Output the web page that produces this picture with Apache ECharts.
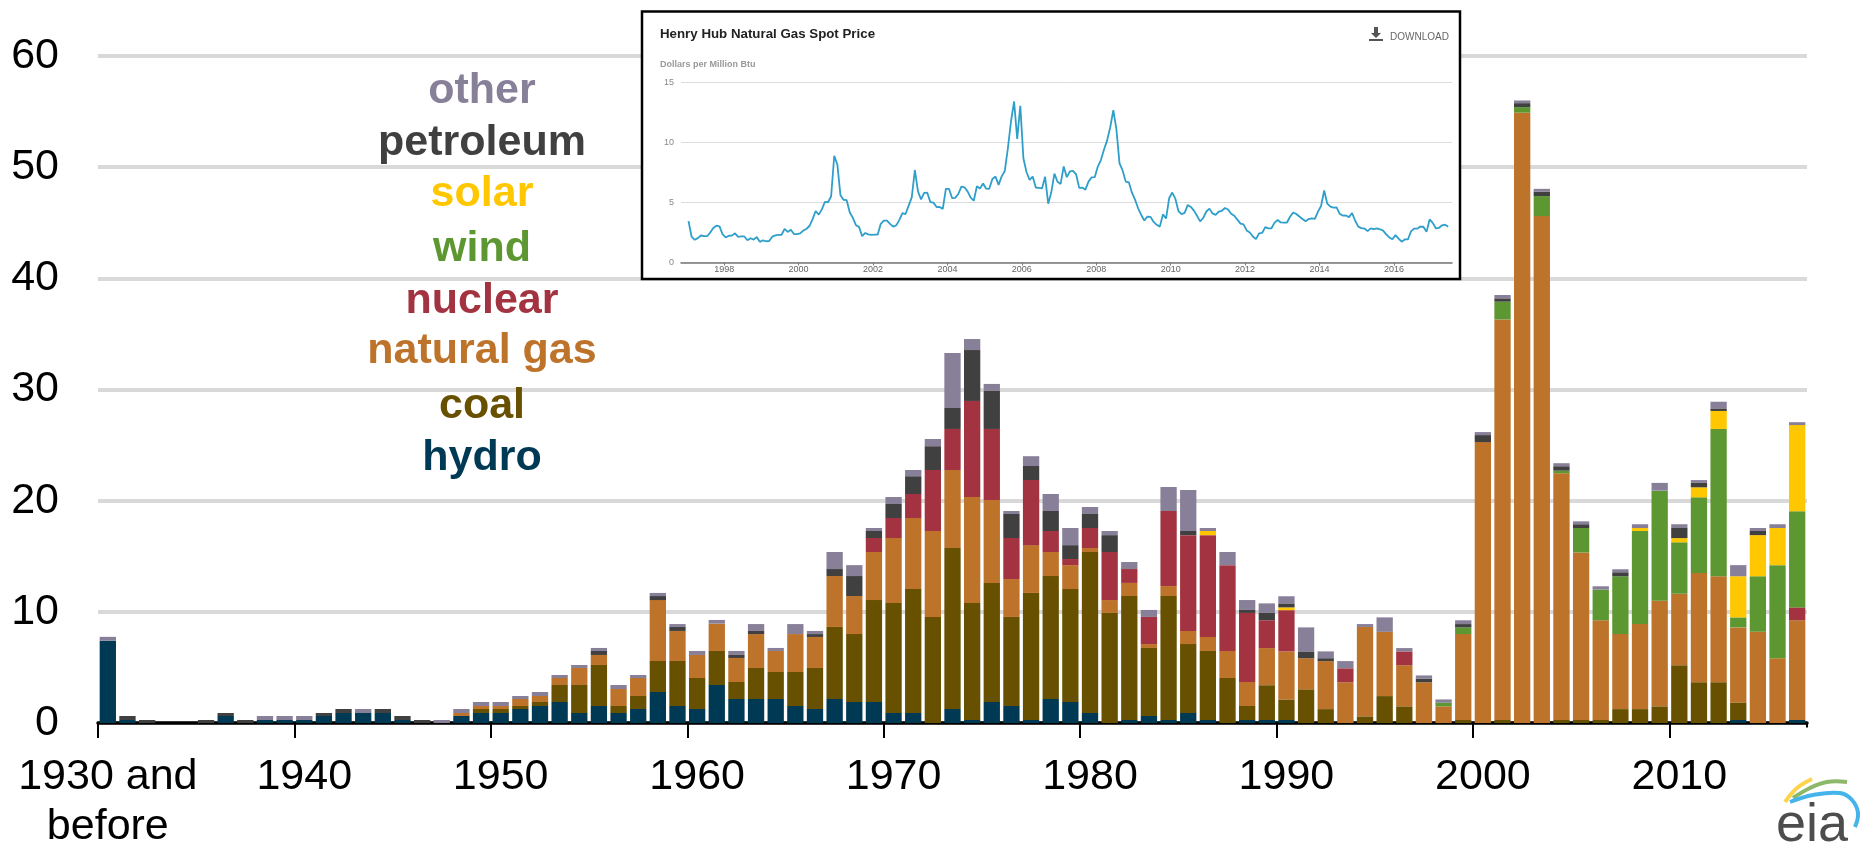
<!DOCTYPE html>
<html>
<head>
<meta charset="utf-8">
<script src="https://cdn.jsdelivr.net/npm/echarts@6/dist/echarts.min.js"></script>
<style>html,body{margin:0;padding:0;background:#fff}#c{width:1866px;height:858px}</style>
</head>
<body>
<div id="c"></div>
<script>
const categories = ['1930 and\nbefore','1931','1932','1933','1934','1935','1936','1937','1938','1939',
'1940','1941','1942','1943','1944','1945','1946','1947','1948','1949',
'1950','1951','1952','1953','1954','1955','1956','1957','1958','1959',
'1960','1961','1962','1963','1964','1965','1966','1967','1968','1969',
'1970','1971','1972','1973','1974','1975','1976','1977','1978','1979',
'1980','1981','1982','1983','1984','1985','1986','1987','1988','1989',
'1990','1991','1992','1993','1994','1995','1996','1997','1998','1999',
'2000','2001','2002','2003','2004','2005','2006','2007','2008','2009',
'2010','2011','2012','2013','2014','2015','2016'];

const hydro = [7.4,.27,0,0,0,0,.63,0,.27,.27,
.27,.63,.9,.9,.9,.27,0,0,.63,.9,
.9,1.26,1.53,1.89,.9,1.53,.9,1.26,2.79,1.53,
1.26,3.42,2.16,2.16,2.16,1.53,1.26,2.16,1.89,1.89,
.9,.9,0,1.26,.27,1.89,1.53,.27,2.16,1.89,
.9,0,.27,.63,.27,.9,.27,0,.27,.27,
.27,0,0,0,0,0,0,0,0,0,
0,0,0,0,0,0,0,0,0,0,
0,0,0,.27,0,0,.27];

const coal = [0,0,0,0,0,0,0,0,0,0,
0,0,0,0,0,0,0,0,0,.36,
.36,.27,.36,1.53,2.52,3.69,.63,1.17,2.79,4.05,
2.79,3.06,1.53,2.79,2.43,3.06,3.69,6.48,6.11,9.17,
9.9,11.15,9.54,14.48,10.53,10.71,8.01,11.43,11.06,10.16,
14.48,9.9,11.15,6.12,11.15,6.2,6.21,4.05,1.26,3.13,
1.85,3.03,1.25,0,.6,2.42,1.5,0,0,.27,
0,.27,0,0,.27,.27,.27,1.25,1.25,1.5,
5.2,3.67,3.67,1.58,0,0,0];

const naturalGas = [0,0,0,0,0,0,0,0,0,0,
0,0,0,0,0,0,0,0,.27,.27,
.27,.63,.54,.63,1.53,.9,1.53,1.62,5.48,2.7,
2.07,2.46,2.16,3.05,1.89,3.41,2.79,4.58,3.42,4.32,
5.84,6.39,7.73,7.02,9.53,7.46,3.41,4.3,2.16,2.15,
.36,1.16,1.18,.35,.9,1.18,1.26,2.43,2.16,3.34,
4.32,2.8,4.32,3.67,8.04,5.78,3.7,3.67,1.5,7.73,
25.27,36.03,54.9,45.6,22.19,15.07,8.97,6.75,7.65,9.5,
6.43,9.83,9.53,6.75,8.2,5.83,8.97];

const nuclear = [0,0,0,0,0,0,0,0,0,0,
0,0,0,0,0,0,0,0,0,0,
0,0,0,0,0,0,0,0,0,0,
0,0,0,0,0,0,0,0,0,1.26,
1.8,2.16,5.49,3.69,8.64,6.39,3.69,5.86,1.89,.55,
1.8,4.32,1.25,2.44,6.75,8.62,9.16,7.72,6.21,2.5,
3.71,0,0,1.25,0,0,1.24,0,0,0,
0,0,0,0,0,0,0,0,0,0,
0,0,0,0,0,0,1.16];

const wind = [0,0,0,0,0,0,0,0,0,0,
0,0,0,0,0,0,0,0,0,0,
0,0,0,0,0,0,0,0,0,0,
0,0,0,0,0,0,0,0,0,0,
0,0,0,0,0,0,0,0,0,0,
0,0,0,0,0,0,0,0,0,0,
0,0,0,0,0,0,0,0,.32,.6,
0,1.6,.5,1.8,.24,2.2,2.76,5.2,8.37,9.9,
4.62,6.8,13.25,.9,5,8.37,8.65];

const solar = [0,0,0,0,0,0,0,0,0,0,
0,0,0,0,0,0,0,0,0,0,
0,0,0,0,0,0,0,0,0,0,
0,0,0,0,0,0,0,0,0,0,
0,0,0,0,0,0,0,0,0,0,
0,0,0,0,0,0,.37,0,0,0,
.25,0,0,0,0,0,0,0,0,0,
0,0,0,0,0,0,0,0,.27,0,
.38,.9,1.62,3.7,3.7,3.34,7.75];

const petroleum = [0,.36,.27,0,0,.27,.27,.27,0,0,
0,.27,.36,0,.36,.36,.27,0,0,0,
0,0,0,0,0,.36,0,0,.36,.36,
0,0,.27,.28,0,0,.26,.63,1.8,.63,
1.26,1.6,2.14,1.89,4.58,3.42,2.16,1.26,1.8,1.25,
1.26,1.52,0,0,0,.37,0,0,.27,.66,
.36,.61,.26,0,0,0,0,.33,0,.3,
.63,.3,.36,.4,.4,.34,0,.36,0,0,
.91,.4,.23,0,.37,0,0];

const other = [.35,0,0,0,0,0,0,0,.36,.36,
.36,0,0,.36,0,0,0,.27,.36,.36,
.36,.27,.36,.27,.27,.27,.36,.27,.28,.26,
.36,.33,.36,.62,.27,.9,.28,1.53,.98,.27,
.63,.56,.65,4.94,.99,.63,.27,.88,1.53,1.54,
.63,.37,.63,.63,2.16,3.69,.27,1.18,.89,.86,
.64,2.16,.61,.65,.26,1.3,.3,.28,.3,.34,
.27,.3,.24,.25,.27,.26,.3,.27,.34,.7,
.34,.25,.6,1,.27,.34,.26];

const henryHubPrice = [
3.45,2.15,1.89,2.03,2.25,2.20,2.19,2.49,2.88,3.07,3.01,2.35,
2.09,2.23,2.24,2.43,2.14,2.17,2.17,1.85,2.02,1.91,2.12,1.72,
1.85,1.77,1.79,2.15,2.26,2.30,2.31,2.80,2.55,2.73,2.37,2.36,
2.42,2.66,2.79,3.04,3.59,4.29,3.99,4.43,5.06,5.02,5.52,8.90,
8.17,5.61,5.23,5.19,4.19,3.72,3.11,2.97,2.19,2.46,2.34,2.30,
2.32,2.32,3.22,3.49,3.49,3.22,2.99,3.09,3.55,4.12,4.04,4.74,
5.43,7.71,5.93,5.26,5.81,5.82,5.03,4.99,4.62,4.63,4.47,6.13,
6.14,5.37,5.39,5.71,6.33,6.27,5.93,5.41,5.15,6.35,6.17,6.58,
6.15,6.14,6.96,7.16,6.47,7.18,7.63,9.53,11.75,13.42,10.30,13.05,
8.69,7.54,6.89,7.16,6.25,6.21,6.17,7.14,4.90,5.85,7.41,6.73,
6.55,8.00,7.11,7.60,7.64,7.35,6.22,6.24,6.07,6.74,7.10,7.11,
7.99,8.54,9.41,10.18,11.27,12.69,11.09,8.26,7.67,6.74,6.68,5.82,
5.24,4.52,3.96,3.50,3.83,3.80,3.38,3.14,2.99,4.01,3.66,5.35,
5.83,5.32,4.29,4.03,4.14,4.80,4.63,4.32,3.89,3.43,3.71,4.25,
4.49,4.09,3.97,4.24,4.31,4.54,4.42,4.06,3.90,3.57,3.24,3.17,
2.67,2.50,2.17,1.95,2.43,2.46,2.95,2.84,2.85,3.32,3.54,3.34,
3.33,3.33,3.81,4.17,4.04,3.83,3.62,3.43,3.62,3.68,3.64,4.24,
4.71,6.00,4.90,4.66,4.58,4.59,4.05,3.91,3.92,3.78,4.12,3.48,
2.99,2.87,2.83,2.61,2.85,2.78,2.84,2.77,2.66,2.34,2.09,1.93,
2.28,1.99,1.73,1.92,1.92,2.59,2.82,2.82,2.99,2.98,2.55,3.59,
3.30,2.85,2.88,3.10,3.15,2.98];
const insetYearTicks = [1998,2000,2002,2004,2006,2008,2010,2012,2014,2016];

const seriesNames = ['hydro','coal','natural gas','nuclear','wind','solar','petroleum','other'];
const seriesValues = [hydro,coal,naturalGas,nuclear,wind,solar,petroleum,other];
const seriesColors = ['#003953','#675100','#bd732a','#a33340','#5d9732','#ffc700','#404040','#887f98'];
const legendOrder = ['other','petroleum','solar','wind','nuclear','natural gas','coal','hydro'];
const legendBaselines = [102,154,205,260,312,362,417,469];

const SANS = '"Liberation Sans",Arial,sans-serif';

const chart = echarts.init(document.getElementById('c'), null, {renderer:'canvas'});

const graphicEls = [
  {type:'rect', z:1, silent:true, shape:{x:642,y:11.5,width:818,height:267.5},
   style:{fill:'#fff',stroke:'#000',lineWidth:2.5}},
  // the reference's axis has no closing tick at its right end
  {type:'rect', z:1, silent:true, shape:{x:1804,y:727.5,width:6,height:16}, style:{fill:'#fff'}},
  {type:'text', z:5, silent:true, style:{x:660,y:34,text:'Henry Hub Natural Gas Spot Price',
    font:'bold 13.3px '+SANS,fill:'#222',textAlign:'left',textVerticalAlign:'middle'}},
  {type:'text', z:5, silent:true, style:{x:1390,y:37,text:'DOWNLOAD',
    font:'10px '+SANS,fill:'#666',textAlign:'left',textVerticalAlign:'middle'}},
  {type:'text', z:5, silent:true, style:{x:660,y:65,text:'Dollars per Million Btu',
    font:'bold 9px '+SANS,fill:'#999',textAlign:'left',textVerticalAlign:'middle'}},
  {type:'polygon', z:5, silent:true, shape:{points:[[1374,27],[1378,27],[1378,33],[1381,33],[1376,38],[1371,33],[1374,33]]}, style:{fill:'#555'}},
  {type:'rect', z:5, silent:true, shape:{x:1369,y:39,width:14,height:2}, style:{fill:'#555'}},
  // eia logo
  {type:'polyline', z:5, silent:true, shape:{points:[[1785,802],[1797,788],[1812,779]],smooth:0.4}, style:{stroke:'#ffd34d',lineWidth:4,fill:null}},
  {type:'polyline', z:5, silent:true, shape:{points:[[1793,798],[1810,788],[1827,782],[1847,782]],smooth:0.4}, style:{stroke:'#8db86a',lineWidth:4,fill:null}},
  {type:'polyline', z:5, silent:true, shape:{points:[[1790,802],[1813,795],[1840,793],[1852,800],[1858,813],[1855,827]],smooth:0.4}, style:{stroke:'#45b4ea',lineWidth:4,fill:null}},
  {type:'text', z:5, silent:true, style:{x:1812,y:826,text:'eia',
    font:'54px '+SANS,fill:'#4d4d4d',textAlign:'center',textVerticalAlign:'middle'}}
];
legendOrder.forEach((name,i)=>{
  graphicEls.push({type:'text', z:6, silent:true, style:{x:482,y:legendBaselines[i]-11,text:name,
    font:'bold 43px '+SANS,fill:seriesColors[seriesNames.indexOf(name)],textAlign:'center',textVerticalAlign:'middle'}});
});

chart.setOption({
  animation:false,
  backgroundColor:'#fff',
  grid:[
    {left:98,right:59,top:56,bottom:135},
    {left:681,width:771,top:82.5,height:180}
  ],
  xAxis:[
    {type:'category',gridIndex:0,data:categories,boundaryGap:true,offset:1.5,
     axisLine:{lineStyle:{color:'#000',width:3.5}},
     axisTick:{show:true,interval:9,alignWithLabel:false,length:15,lineStyle:{color:'#000',width:2}},
     axisLabel:{interval:9,margin:28,color:'#000',fontFamily:SANS,fontSize:43,lineHeight:50,align:'center',hideOverlap:false}},
    {type:'value',gridIndex:1,min:1996.84,max:2017.56,z:3,splitLine:{show:false},
     axisLine:{onZero:false,lineStyle:{color:'#777',width:1.5}},
     axisTick:{length:3,customValues:insetYearTicks,lineStyle:{color:'#777'}},
     axisLabel:{customValues:insetYearTicks,margin:3,color:'#666',fontFamily:SANS,fontSize:9,formatter:v=>String(v)}}
  ],
  yAxis:[
    {type:'value',gridIndex:0,min:0,max:60,interval:10,
     axisLine:{show:false},axisTick:{show:false},
     axisLabel:{margin:39,color:'#000',fontFamily:SANS,fontSize:43,padding:[0,0,3,0]},
     splitLine:{lineStyle:{color:'#d9d9d9',width:4}}},
    {type:'value',gridIndex:1,min:0,max:15,interval:5,z:3,
     axisLine:{show:false},axisTick:{show:false},
     axisLabel:{margin:7,color:'#888',fontFamily:SANS,fontSize:9},
     splitLine:{lineStyle:{color:'#dcdcdc',width:1}}}
  ],
  graphic:{elements:graphicEls},
  series:[
    ...seriesNames.map((name,i)=>({
      name,type:'bar',stack:'capacity',xAxisIndex:0,yAxisIndex:0,
      barWidth:'83%',data:seriesValues[i],itemStyle:{color:seriesColors[i]},z:2
    })),
    {name:'Henry Hub',type:'line',xAxisIndex:1,yAxisIndex:1,z:4,showSymbol:false,
     data:henryHubPrice.map((v,i)=>[1997+(i+0.5)/12,v]),
     lineStyle:{color:'#2e9fca',width:1.8}}
  ]
});
</script>
</body>
</html>
